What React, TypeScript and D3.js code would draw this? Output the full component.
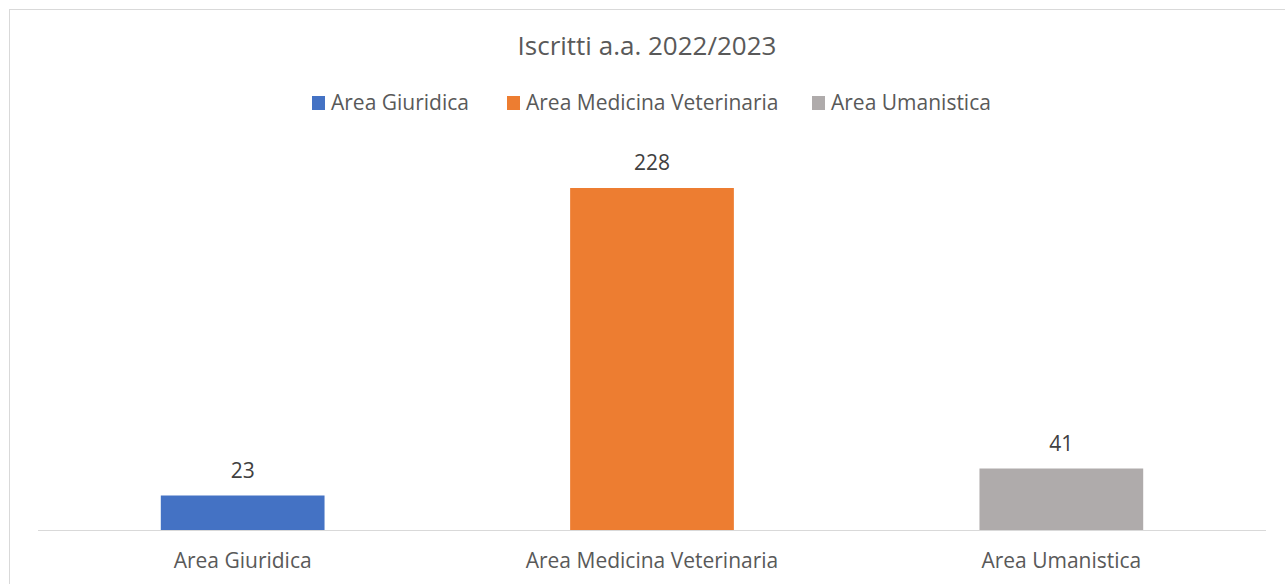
import React from 'react'
import * as d3 from 'd3'

const categories = ['Area Giuridica', 'Area Medicina Veterinaria', 'Area Umanistica']
const values = [23, 228, 41]
const colors = ['#4472c4', '#ed7d31', '#afabab']
const title = 'Iscritti a.a. 2022/2023'

const W = 1285
const H = 584
const font = '"Open Sans", "Noto Sans", sans-serif'

export default function App() {
    const x = d3.scaleBand<string>()
        .domain(categories)
        .range([38, 1266])
        .paddingInner(0.6)
        .paddingOuter(0.3)

    const y = d3.scaleLinear()
        .domain([0, 250])
        .range([530, 155])

    // legend square positions
    const legendX = [312, 507, 812]

    return (
        <svg width={W} height={H} style={{ position: 'absolute', left: 0, top: 0 }} fontFamily={font}>
            <rect x={0} y={0} width={W} height={H} fill='#fff' />
            <rect x={9.5} y={9.5} width={W + 10} height={H + 10} fill='#fff' stroke='#d9d9d9' />

            <text x={647} y={55} textAnchor='middle' fontSize={26} fill='#595959'>{title}</text>

            {categories.map((c, i) => (
                <g key={'lg' + c} transform={'translate(' + legendX[i] + ',0)'}>
                    <rect x={0} y={96} width={13} height={14} fill={colors[i]} />
                    <text x={19} y={110} fontSize={21} fill='#595959'>{c}</text>
                </g>
            ))}

            <line x1={38} x2={1266} y1={530.5} y2={530.5} stroke='#d9d9d9' />

            {categories.map((c, i) => (
                <g key={c}>
                    <rect x={x(c)} y={y(values[i])} width={x.bandwidth()}
                        height={y(0) - y(values[i])} fill={colors[i]} />
                    <text x={(x(c) as number) + x.bandwidth() / 2} y={y(values[i]) - 18}
                        textAnchor='middle' fontSize={21} fill='#404040'>{values[i]}</text>
                    <text x={(x(c) as number) + x.bandwidth() / 2} y={568}
                        textAnchor='middle' fontSize={21} fill='#595959'>{c}</text>
                </g>
            ))}
        </svg>
    )
}
